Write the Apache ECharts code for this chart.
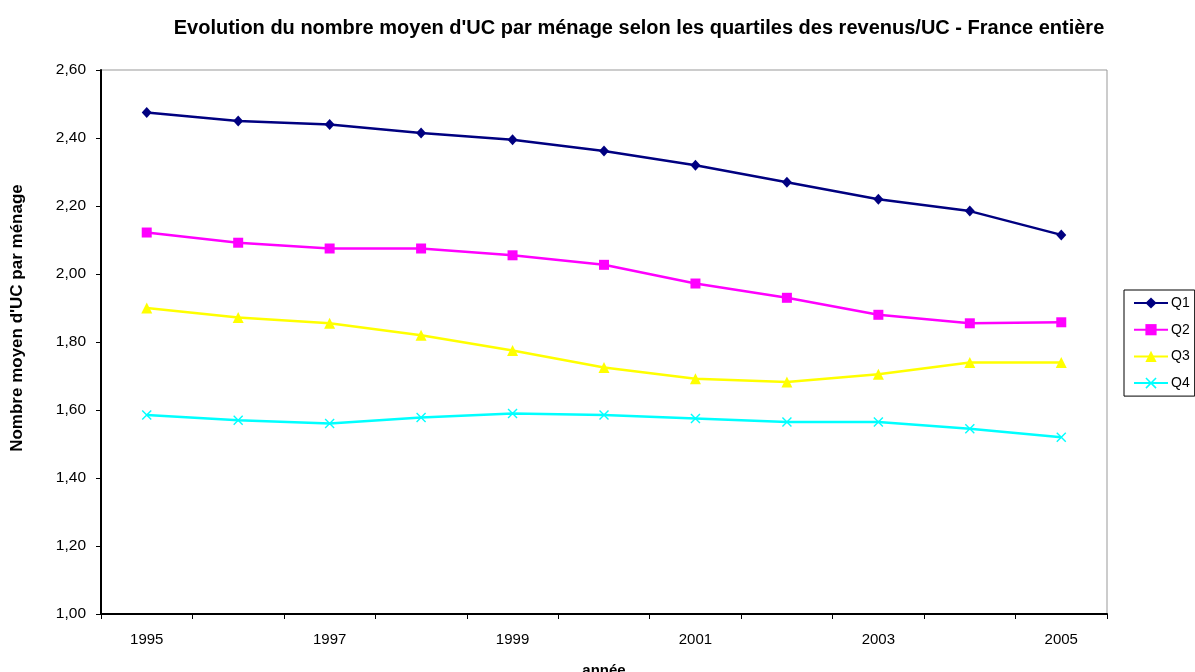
<!DOCTYPE html>
<html><head><meta charset="utf-8">
<script src="https://cdn.jsdelivr.net/npm/echarts@6/dist/echarts.min.js"></script>
<style>html,body{margin:0;padding:0;background:#fff}#c{width:1195px;height:672px}</style>
</head><body><div id="c"></div>
<script>
const years = ['1995','1996','1997','1998','1999','2000','2001','2002','2003','2004','2005'];
const q1 = [2.475,2.45,2.44,2.415,2.395,2.362,2.32,2.27,2.22,2.185,2.115];
const q2 = [2.122,2.092,2.075,2.075,2.055,2.027,1.972,1.93,1.88,1.855,1.858];
const q3 = [1.90,1.872,1.855,1.82,1.775,1.725,1.692,1.682,1.705,1.74,1.74];
const q4 = [1.585,1.57,1.56,1.578,1.59,1.585,1.575,1.565,1.565,1.545,1.52];
const seriesNames = ['Q1','Q2','Q3','Q4'];

const FONT = '"Liberation Sans", Arial, sans-serif';
const crossPath = 'path://M0,1 L1,0 L5,4 L9,0 L10,1 L6,5 L10,9 L9,10 L5,6 L1,10 L0,9 L4,5 Z';
const styles = [
  {color:'#000080', symbol:'diamond', size:[10,11]},
  {color:'#FF00FF', symbol:'rect', size:10},
  {color:'#FFFF00', symbol:'triangle', size:11},
  {color:'#00FFFF', symbol:crossPath, size:10}
];
const datasets = [q1,q2,q3,q4];

const chart = echarts.init(document.getElementById('c'), null, {renderer:'canvas'});
chart.setOption({
  animation:false,
  backgroundColor:'#fff',
  title:{text:"Evolution du nombre moyen d'UC par ménage selon les quartiles des revenus/UC - France entière",
    left:634, top:13, textAlign:'center',
    textStyle:{fontFamily:FONT, fontSize:20, fontWeight:'bold', color:'#000'}},
  grid:{left:101, right:88, top:70, bottom:58, outerBoundsMode:'none', containLabel:false,
    show:true, borderColor:'#999', borderWidth:1, backgroundColor:'transparent'},
  legend:{orient:'vertical', left:1124, top:290, padding:[6,5,6,9], itemGap:12.7, itemWidth:34, itemHeight:14,
    borderColor:'#000', borderWidth:1, backgroundColor:'#fff',
    textStyle:{fontFamily:FONT, fontSize:14, color:'#000', padding:[0,0,0,-2]},
    data:seriesNames},
  graphic:[{type:'text', x:17, y:318, rotation:Math.PI/2,
    style:{text:"Nombre moyen d'UC par ménage", fontFamily:FONT, fontSize:17, fontWeight:'bold', fill:'#000',
      textAlign:'center', textVerticalAlign:'middle'}}],
  xAxis:{type:'category', data:years, boundaryGap:true,
    name:'année', nameLocation:'middle', nameGap:49,
    nameTextStyle:{fontFamily:FONT, fontSize:15, fontWeight:'bold', color:'#000'},
    axisLine:{lineStyle:{color:'#000', width:2}},
    axisTick:{show:true, alignWithLabel:false, interval:0, length:5, lineStyle:{color:'#000'}},
    axisLabel:{interval:1, margin:18, fontFamily:FONT, fontSize:15, color:'#000'},
    splitLine:{show:false}},
  yAxis:{type:'value', min:1.0, max:2.6, interval:0.2,
    axisLine:{show:true, lineStyle:{color:'#000', width:2}},
    axisTick:{show:true, length:5, lineStyle:{color:'#000'}},
    axisLabel:{margin:15, fontFamily:FONT, fontSize:15.5, color:'#000',
      formatter:v=>v.toFixed(2).replace('.',',')},
    splitLine:{show:false}},
  series: datasets.map((d,i)=>({
    name:seriesNames[i], type:'line', data:d,
    symbol:styles[i].symbol, symbolSize:styles[i].size, showAllSymbol:true,
    lineStyle:{color:styles[i].color, width:2.5},
    itemStyle:{color:styles[i].color, borderWidth:0},
    emphasis:{disabled:true}
  }))
});
</script></body></html>
